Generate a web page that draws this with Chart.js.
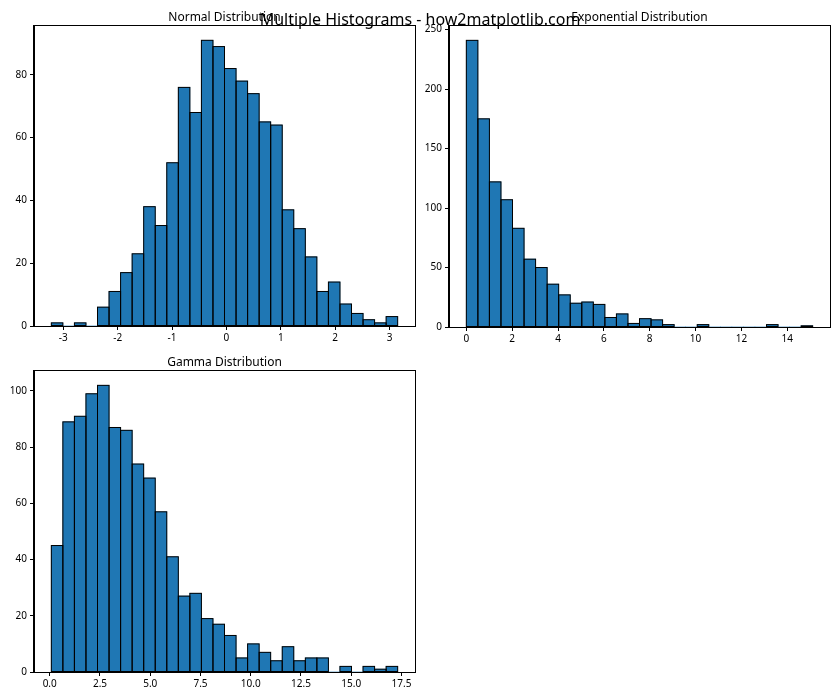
<!DOCTYPE html>
<html><head><meta charset="utf-8">
<script src="https://cdn.jsdelivr.net/npm/chart.js@4.4.1/dist/chart.umd.min.js"></script>
<style>
html,body{margin:0;padding:0;background:#fff;}
#wrap{position:relative;width:840px;height:700px;overflow:hidden;background:#fff;}
canvas{position:absolute;}
#sup{position:absolute;left:0;width:840px;top:9px;text-align:center;font-family:"Noto Sans",sans-serif;font-size:16px;line-height:20px;color:#000;z-index:5;white-space:nowrap;pointer-events:none;}
</style></head><body>
<div id="wrap">
<canvas id="c1" width="420" height="345" style="left:0;top:0;width:420px;height:345px"></canvas>
<canvas id="c2" width="420" height="345" style="left:420px;top:0;width:420px;height:345px"></canvas>
<canvas id="c3" width="420" height="355" style="left:0;top:345px;width:420px;height:355px"></canvas>
<div id="sup">Multiple Histograms - how2matplotlib.com</div>
</div>
<script>
const FONT = '"Noto Sans", sans-serif';

// Normal distribution histogram (30 bins)
const normalCounts = [1,0,1,0,6,11,17,23,38,32,52,76,68,91,89,82,78,74,65,64,37,31,22,11,14,7,4,2,1,3];
const normalRange = [-3.22, 3.15];
const normalXTicks = [-3,-2,-1,0,1,2,3];
const normalYTicks = [0,20,40,60,80];

// Exponential distribution histogram (30 bins)
const expCounts = [241,175,122,107,83,57,50,36,27,20,21,19,8,11,3,7,6,2,0,0,2,0,0,0,0,0,2,0,0,1];
const expRange = [0.0, 15.11];
const expXTicks = [0,2,4,6,8,10,12,14];
const expYTicks = [0,50,100,150,200,250];

// Gamma distribution histogram (30 bins)
const gammaCounts = [45,89,91,99,102,87,86,74,69,57,41,27,28,19,17,13,5,10,7,4,9,4,5,5,0,2,0,2,1,2];
const gammaRange = [0.08, 17.31];
const gammaXTicks = [0,2.5,5,7.5,10,12.5,15,17.5];
const gammaYTicks = [0,20,40,60,80,100];

const titles = ['Normal Distribution','Exponential Distribution','Gamma Distribution'];

// Edge outlines centred on bar edges (matplotlib style), using the library's bar geometry
const edgePlugin = {
  id: 'edges',
  afterDatasetsDraw(chart) {
    const {ctx} = chart;
    const meta = chart.getDatasetMeta(0);
    ctx.save();
    ctx.strokeStyle = '#000';
    ctx.lineWidth = 1;
    meta.data.forEach((bar) => {
      const p = bar.getProps(['x', 'y', 'base', 'width'], true);
      const h = p.base - p.y;
      if (h <= 0.01) return;
      ctx.strokeRect(p.x - p.width / 2, p.y, p.width, h);
    });
    ctx.restore();
  }
};

const framePlugin = {
  id: 'frame',
  afterDraw(chart, args, opts) {
    const {ctx, chartArea: a} = chart;
    ctx.save();
    ctx.strokeStyle = '#000';
    ctx.lineWidth = 1;
    ctx.strokeRect(Math.round(a.left) - 0.5, Math.round(a.top) - 0.5, Math.round(a.right - a.left) + 1, Math.round(a.bottom - a.top) + 1);
    ctx.fillStyle = '#000';
    ctx.font = '12px ' + FONT;
    ctx.textAlign = 'center';
    ctx.textBaseline = 'alphabetic';
    ctx.fillText(opts.text, (a.left + a.right) / 2, a.top - 5);
    ctx.restore();
  }
};

function makeHist(id, counts, range, xticks, yticks, xfmt, title, box) {
  const n = counts.length;
  const w = (range[1] - range[0]) / n;
  const data = counts.map((c, i) => ({x: range[0] + (i + 0.5) * w, y: c}));
  const span = range[1] - range[0];
  const ymax = Math.max(...counts) * 1.05;
  const canvas = document.getElementById(id);
  new Chart(canvas, {
    type: 'bar',
    data: {datasets: [{
      data,
      backgroundColor: '#1f77b4',
      borderWidth: 0,
      barPercentage: 1,
      categoryPercentage: 1,
      grouped: false
    }]},
    plugins: [edgePlugin, framePlugin],
    options: {
      responsive: false,
      animation: false,
      devicePixelRatio: 1,
      layout: {padding: {left: 0, top: box.top, right: box.right, bottom: 0}},
      plugins: {legend: {display: false}, tooltip: {enabled: false}, title: {display: false}, frame: {text: title}},
      scales: {
        x: {
          type: 'linear',
          offset: false,
          min: range[0] - 0.05 * span,
          max: range[1] + 0.05 * span,
          grid: {display: true, drawOnChartArea: false, drawTicks: true, tickLength: 4, tickColor: '#000', offset: false},
          border: {display: true, color: '#000', width: 1},
          ticks: {color: '#000', font: {family: FONT, size: 10}, padding: 2, maxRotation: 0, autoSkip: false, callback: (v) => xfmt(v)},
          afterBuildTicks: (s) => { s.ticks = xticks.map(v => ({value: v})); },
          afterFit: (s) => { s.height = box.xH; s.paddingLeft = 0; s.paddingRight = 0; }
        },
        y: {
          type: 'linear',
          min: 0,
          max: ymax,
          grid: {display: true, drawOnChartArea: false, drawTicks: true, tickLength: 4, tickColor: '#000'},
          border: {display: true, color: '#000', width: 1},
          ticks: {color: '#000', font: {family: FONT, size: 10}, padding: 3, autoSkip: false},
          afterBuildTicks: (s) => { s.ticks = yticks.map(v => ({value: v})); },
          afterFit: (s) => { s.width = box.yW; s.paddingTop = 0; s.paddingBottom = 0; }
        }
      }
    }
  });
}

makeHist('c1', normalCounts, normalRange, normalXTicks, normalYTicks, v => String(v), titles[0],
  {top: 26, right: 5, yW: 34, xH: 19});
makeHist('c2', expCounts, expRange, expXTicks, expYTicks, v => String(v), titles[1],
  {top: 26, right: 10, yW: 29, xH: 18});
makeHist('c3', gammaCounts, gammaRange, gammaXTicks, gammaYTicks, v => v.toFixed(1), titles[2],
  {top: 26, right: 5, yW: 34, xH: 28});
</script>
</body></html>
